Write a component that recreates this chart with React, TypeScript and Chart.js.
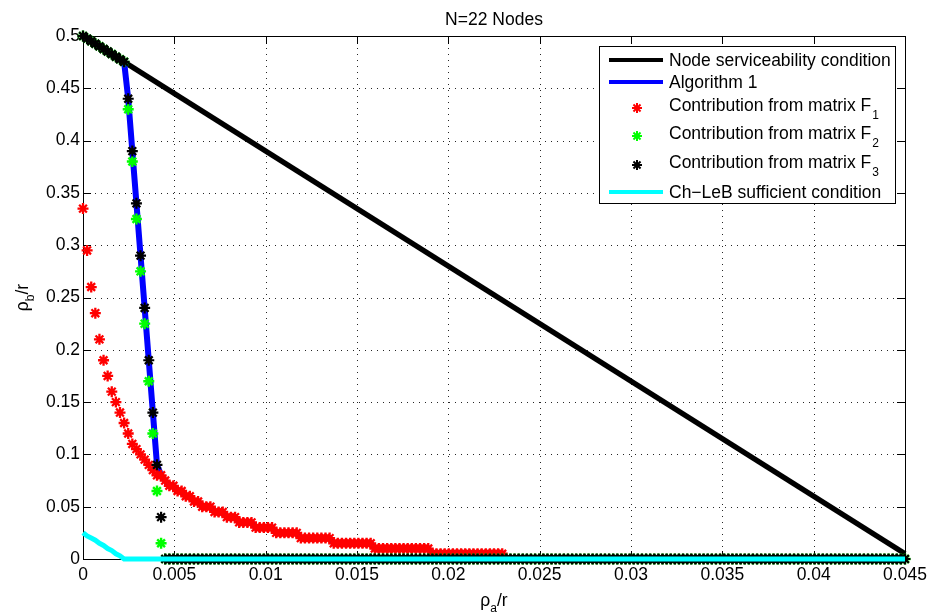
import React, { useEffect, useRef } from 'react';
import { Chart, registerables } from 'chart.js';

Chart.register(...registerables);

const FONT = "'Liberation Sans', Arial, Helvetica, sans-serif";

const TITLE = 'N=22 Nodes';
const X_LABEL_MAIN = 'ρ';
const X_LABEL_SUB = 'a';
const X_LABEL_TAIL = '/r';
const Y_LABEL_MAIN = 'ρ';
const Y_LABEL_SUB = 'b';
const Y_LABEL_TAIL = '/r';

const X_TICKS = [0, 0.005, 0.01, 0.015, 0.02, 0.025, 0.03, 0.035, 0.04, 0.045];
const X_TICK_LABELS = ['0', '0.005', '0.01', '0.015', '0.02', '0.025', '0.03', '0.035', '0.04', '0.045'];
const Y_TICKS = [0, 0.05, 0.1, 0.15, 0.2, 0.25, 0.3, 0.35, 0.4, 0.45, 0.5];
const Y_TICK_LABELS = ['0', '0.05', '0.1', '0.15', '0.2', '0.25', '0.3', '0.35', '0.4', '0.45', '0.5'];

const LEGEND_LABELS = [
  'Node serviceability condition',
  'Algorithm 1',
  'Contribution from matrix F',
  'Contribution from matrix F',
  'Contribution from matrix F',
  'Ch\u2212LeB sufficient condition',
];
const LEGEND_SUBS = ['', '', '1', '2', '3', ''];

// rho_a / r sampling grid (201 points, 0 .. 0.045)
const RHO_A = [
  0, 0.000225, 0.00045, 0.000675, 0.0009, 0.001125, 0.00135, 0.001575, 0.0018, 0.002025,
  0.00225, 0.002475, 0.0027, 0.002925, 0.00315, 0.003375, 0.0036, 0.003825, 0.00405, 0.004275,
  0.0045, 0.004725, 0.00495, 0.005175, 0.0054, 0.005625, 0.00585, 0.006075, 0.0063, 0.006525,
  0.00675, 0.006975, 0.0072, 0.007425, 0.00765, 0.007875, 0.0081, 0.008325, 0.00855, 0.008775,
  0.009, 0.009225, 0.00945, 0.009675, 0.0099, 0.010125, 0.01035, 0.010575, 0.0108, 0.011025,
  0.01125, 0.011475, 0.0117, 0.011925, 0.01215, 0.012375, 0.0126, 0.012825, 0.01305, 0.013275,
  0.0135, 0.013725, 0.01395, 0.014175, 0.0144, 0.014625, 0.01485, 0.015075, 0.0153, 0.015525,
  0.01575, 0.015975, 0.0162, 0.016425, 0.01665, 0.016875, 0.0171, 0.017325, 0.01755, 0.017775,
  0.018, 0.018225, 0.01845, 0.018675, 0.0189, 0.019125, 0.01935, 0.019575, 0.0198, 0.020025,
  0.02025, 0.020475, 0.0207, 0.020925, 0.02115, 0.021375, 0.0216, 0.021825, 0.02205, 0.022275,
  0.0225, 0.022725, 0.02295, 0.023175, 0.0234, 0.023625, 0.02385, 0.024075, 0.0243, 0.024525,
  0.02475, 0.024975, 0.0252, 0.025425, 0.02565, 0.025875, 0.0261, 0.026325, 0.02655, 0.026775,
  0.027, 0.027225, 0.02745, 0.027675, 0.0279, 0.028125, 0.02835, 0.028575, 0.0288, 0.029025,
  0.02925, 0.029475, 0.0297, 0.029925, 0.03015, 0.030375, 0.0306, 0.030825, 0.03105, 0.031275,
  0.0315, 0.031725, 0.03195, 0.032175, 0.0324, 0.032625, 0.03285, 0.033075, 0.0333, 0.033525,
  0.03375, 0.033975, 0.0342, 0.034425, 0.03465, 0.034875, 0.0351, 0.035325, 0.03555, 0.035775,
  0.036, 0.036225, 0.03645, 0.036675, 0.0369, 0.037125, 0.03735, 0.037575, 0.0378, 0.038025,
  0.03825, 0.038475, 0.0387, 0.038925, 0.03915, 0.039375, 0.0396, 0.039825, 0.04005, 0.040275,
  0.0405, 0.040725, 0.04095, 0.041175, 0.0414, 0.041625, 0.04185, 0.042075, 0.0423, 0.042525,
  0.04275, 0.042975, 0.0432, 0.043425, 0.04365, 0.043875, 0.0441, 0.044325, 0.04455, 0.044775,
  0.045,
];

// Node serviceability condition (straight line)
const SERVICE_X = [0, 0.045];
const SERVICE_Y = [0.5, 0.005];

// Contribution from matrix F1 (red), first 103 grid points
const F1 = [
  0.335, 0.295, 0.26, 0.235, 0.21, 0.19, 0.175, 0.16, 0.15, 0.14,
  0.13, 0.12, 0.11, 0.105, 0.1, 0.095, 0.09, 0.085, 0.08, 0.08,
  0.075, 0.07, 0.07, 0.065, 0.065, 0.06, 0.06, 0.055, 0.055, 0.05,
  0.05, 0.05, 0.045, 0.045, 0.045, 0.04, 0.04, 0.04, 0.035, 0.035,
  0.035, 0.035, 0.03, 0.03, 0.03, 0.03, 0.03, 0.025, 0.025, 0.025,
  0.025, 0.025, 0.025, 0.02, 0.02, 0.02, 0.02, 0.02, 0.02, 0.02,
  0.02, 0.015, 0.015, 0.015, 0.015, 0.015, 0.015, 0.015, 0.015, 0.015,
  0.015, 0.01, 0.01, 0.01, 0.01, 0.01, 0.01, 0.01, 0.01, 0.01,
  0.01, 0.01, 0.01, 0.01, 0.01, 0.005, 0.005, 0.005, 0.005, 0.005,
  0.005, 0.005, 0.005, 0.005, 0.005, 0.005, 0.005, 0.005, 0.005, 0.005,
  0.005, 0.005, 0.005,
];

// Contributions from matrices F2 (green) and F3 (black): first 20 grid points
const F2_HEAD = [
  0.5, 0.4975, 0.495, 0.4926, 0.4901, 0.4876, 0.4852, 0.4827, 0.4802, 0.4777,
  0.4753, 0.43, 0.38, 0.325, 0.275, 0.225, 0.17, 0.12, 0.065, 0.015,
];
const F3_HEAD = [
  0.5, 0.4975, 0.495, 0.4926, 0.4901, 0.4876, 0.4852, 0.4827, 0.4802, 0.4777,
  0.4753, 0.44, 0.39, 0.34, 0.29, 0.24, 0.19, 0.14, 0.09, 0.04,
];
// remaining 181 grid points lie on the axis
const ZERO_TAIL = [
  0, 0, 0, 0, 0, 0, 0, 0, 0, 0, 0, 0, 0, 0, 0, 0, 0, 0, 0, 0,
  0, 0, 0, 0, 0, 0, 0, 0, 0, 0, 0, 0, 0, 0, 0, 0, 0, 0, 0, 0,
  0, 0, 0, 0, 0, 0, 0, 0, 0, 0, 0, 0, 0, 0, 0, 0, 0, 0, 0, 0,
  0, 0, 0, 0, 0, 0, 0, 0, 0, 0, 0, 0, 0, 0, 0, 0, 0, 0, 0, 0,
  0, 0, 0, 0, 0, 0, 0, 0, 0, 0, 0, 0, 0, 0, 0, 0, 0, 0, 0, 0,
  0, 0, 0, 0, 0, 0, 0, 0, 0, 0, 0, 0, 0, 0, 0, 0, 0, 0, 0, 0,
  0, 0, 0, 0, 0, 0, 0, 0, 0, 0, 0, 0, 0, 0, 0, 0, 0, 0, 0, 0,
  0, 0, 0, 0, 0, 0, 0, 0, 0, 0, 0, 0, 0, 0, 0, 0, 0, 0, 0, 0,
  0, 0, 0, 0, 0, 0, 0, 0, 0, 0, 0, 0, 0, 0, 0, 0, 0, 0, 0, 0,
  0,
];
const F2 = [...F2_HEAD, ...ZERO_TAIL];
const F3 = [...F3_HEAD, ...ZERO_TAIL];

// Ch-LeB sufficient condition (cyan)
const CHLEB_X = [0, 0.000225, 0.00045, 0.000675, 0.0009, 0.001125, 0.00135, 0.001575, 0.0018, 0.002025, 0.00225, 0.045];
const CHLEB_Y = [0.025, 0.022, 0.02, 0.018, 0.015, 0.013, 0.01, 0.008, 0.005, 0.003, 0, 0];

const COLORS = {
  service: '#000000',
  alg: '#0000ff',
  f1: '#ff0000',
  f2: '#00ff00',
  f3: '#000000',
  chleb: '#00ffff',
};

function drawStar(ctx: CanvasRenderingContext2D, x: number, y: number, r: number, color: string, lw: number) {
  ctx.save();
  ctx.strokeStyle = color;
  ctx.lineWidth = lw;
  ctx.beginPath();
  for (let k = 0; k < 4; k++) {
    const a = (k * Math.PI) / 4;
    ctx.moveTo(x + r * Math.cos(a), y + r * Math.sin(a));
    ctx.lineTo(x - r * Math.cos(a), y - r * Math.sin(a));
  }
  ctx.stroke();
  ctx.restore();
}

const framePlugin = {
  id: 'matlabFrame',
  beforeDatasetsDraw(chart: any) {
    const { ctx, chartArea: a, scales } = chart;
    const xs = scales.x;
    const ys = scales.y;
    ctx.save();
    // dotted grid
    ctx.strokeStyle = 'rgba(0,0,0,0.85)';
    ctx.lineWidth = 1;
    ctx.setLineDash([1, 5]);
    X_TICKS.forEach((v) => {
      const px = Math.round(xs.getPixelForValue(v)) + 0.5;
      if (px < a.left + 2 || px > a.right - 2) return;
      ctx.beginPath();
      ctx.moveTo(px, a.bottom);
      ctx.lineTo(px, a.top);
      ctx.stroke();
    });
    Y_TICKS.forEach((v) => {
      const py = Math.round(ys.getPixelForValue(v)) + 0.5;
      if (py < a.top + 2 || py > a.bottom - 2) return;
      ctx.beginPath();
      ctx.moveTo(a.left, py);
      ctx.lineTo(a.right, py);
      ctx.stroke();
    });
    ctx.setLineDash([]);
    // inner ticks
    const tl = 8;
    ctx.strokeStyle = '#000';
    X_TICKS.forEach((v) => {
      const px = Math.round(xs.getPixelForValue(v)) + 0.5;
      ctx.beginPath();
      ctx.moveTo(px, a.bottom);
      ctx.lineTo(px, a.bottom - tl);
      ctx.moveTo(px, a.top);
      ctx.lineTo(px, a.top + tl);
      ctx.stroke();
    });
    Y_TICKS.forEach((v) => {
      const py = Math.round(ys.getPixelForValue(v)) + 0.5;
      ctx.beginPath();
      ctx.moveTo(a.left, py);
      ctx.lineTo(a.left + tl, py);
      ctx.moveTo(a.right, py);
      ctx.lineTo(a.right - tl, py);
      ctx.stroke();
    });
    // box
    ctx.strokeStyle = '#000';
    ctx.lineWidth = 1;
    ctx.strokeRect(Math.round(a.left) + 0.5, Math.round(a.top) + 0.5, Math.round(a.right - a.left), Math.round(a.bottom - a.top));
    ctx.restore();
  },
  afterDraw(chart: any) {
    const { ctx, chartArea: a } = chart;
    const cx = (a.left + a.right) / 2;
    const cy = (a.top + a.bottom) / 2;
    ctx.save();
    ctx.fillStyle = '#000';
    ctx.textBaseline = 'alphabetic';
    // title
    ctx.font = `17.5px ${FONT}`;
    ctx.textAlign = 'center';
    ctx.fillText(TITLE, cx, 25);

    // x label
    ctx.textAlign = 'left';
    const mainF = `17.5px ${FONT}`;
    const subF = `12px ${FONT}`;
    ctx.font = mainF;
    const wMain = ctx.measureText(X_LABEL_MAIN).width;
    const wTail = ctx.measureText(X_LABEL_TAIL).width;
    ctx.font = subF;
    const wSub = ctx.measureText(X_LABEL_SUB).width;
    const x0 = cx - (wMain + wSub + wTail) / 2;
    const xb = 606;
    ctx.font = mainF;
    ctx.fillText(X_LABEL_MAIN, x0, xb);
    ctx.font = subF;
    ctx.fillText(X_LABEL_SUB, x0 + wMain, xb + 6);
    ctx.font = mainF;
    ctx.fillText(X_LABEL_TAIL, x0 + wMain + wSub, xb);

    // y label (rotated)
    ctx.save();
    ctx.translate(28, cy);
    ctx.rotate(-Math.PI / 2);
    ctx.font = mainF;
    const ywMain = ctx.measureText(Y_LABEL_MAIN).width;
    const ywTail = ctx.measureText(Y_LABEL_TAIL).width;
    ctx.font = subF;
    const ywSub = ctx.measureText(Y_LABEL_SUB).width;
    const y0 = -(ywMain + ywSub + ywTail) / 2;
    ctx.font = mainF;
    ctx.fillText(Y_LABEL_MAIN, y0, 0);
    ctx.font = subF;
    ctx.fillText(Y_LABEL_SUB, y0 + ywMain, 6);
    ctx.font = mainF;
    ctx.fillText(Y_LABEL_TAIL, y0 + ywMain + ywSub, 0);
    ctx.restore();

    // legend
    const L = 599.5, T = 46.5, R = 895.5, B = 203.5;
    ctx.fillStyle = '#fff';
    ctx.fillRect(L, T, R - L, B - T);
    ctx.strokeStyle = '#000';
    ctx.lineWidth = 1;
    ctx.strokeRect(L, T, R - L, B - T);

    const baselines = [66, 88, 111, 139, 168, 198];
    const symY = [60, 82, 108, 136, 165, 192];
    const kinds = ['line', 'line', 'star', 'star', 'star', 'line'];
    const cols = [COLORS.service, COLORS.alg, COLORS.f1, COLORS.f2, COLORS.f3, COLORS.chleb];
    for (let i = 0; i < 6; i++) {
      if (kinds[i] === 'line') {
        ctx.save();
        ctx.strokeStyle = cols[i];
        ctx.lineWidth = 4;
        ctx.beginPath();
        ctx.moveTo(609, symY[i]);
        ctx.lineTo(663, symY[i]);
        ctx.stroke();
        ctx.restore();
      } else {
        drawStar(ctx, 637, symY[i], 5, cols[i], 2);
      }
      ctx.fillStyle = '#000';
      ctx.font = mainF;
      ctx.fillText(LEGEND_LABELS[i], 669, baselines[i]);
      if (LEGEND_SUBS[i]) {
        const w = ctx.measureText(LEGEND_LABELS[i]).width;
        ctx.font = subF;
        ctx.fillText(LEGEND_SUBS[i], 669 + w + 1, baselines[i] + 8);
      }
    }
    ctx.restore();
  },
};

export default function App() {
  const ref = useRef<HTMLCanvasElement | null>(null);

  useEffect(() => {
    if (!ref.current) return;
    const pts = (xs: number[], ys: number[]) =>
      ys.map((y, i) => ({ x: xs[i], y }));
    const algY = RHO_A.map((_, i) => Math.max(F1[i] ?? 0, F2[i], F3[i]));

    const chart = new Chart(ref.current, {
      type: 'scatter',
      data: {
        datasets: [
          {
            label: 'Node serviceability condition',
            data: pts(SERVICE_X, SERVICE_Y),
            showLine: true,
            borderColor: COLORS.service,
            borderWidth: 5.5,
            pointRadius: 0,
            clip: false,
            order: 6,
          },
          {
            label: 'Algorithm 1',
            data: pts(RHO_A, algY),
            showLine: true,
            borderColor: COLORS.alg,
            borderWidth: 6,
            pointRadius: 0,
            clip: false,
            order: 5,
          },
          {
            label: 'Contribution from matrix F1',
            data: pts(RHO_A, F1),
            showLine: false,
            pointStyle: 'star',
            pointRadius: 5.5,
            pointBorderWidth: 2.3,
            pointBorderColor: COLORS.f1,
            pointBackgroundColor: COLORS.f1,
            clip: false,
            order: 4,
          },
          {
            label: 'Contribution from matrix F2',
            data: pts(RHO_A, F2),
            showLine: false,
            pointStyle: 'star',
            pointRadius: 5.5,
            pointBorderWidth: 2.4,
            pointBorderColor: COLORS.f2,
            pointBackgroundColor: COLORS.f2,
            clip: false,
            order: 3,
          },
          {
            label: 'Contribution from matrix F3',
            data: pts(RHO_A, F3),
            showLine: false,
            pointStyle: 'star',
            pointRadius: 5.5,
            pointBorderWidth: 2.2,
            pointBorderColor: COLORS.f3,
            pointBackgroundColor: COLORS.f3,
            clip: false,
            order: 2,
          },
          {
            label: 'Ch-LeB sufficient condition',
            data: pts(CHLEB_X, CHLEB_Y),
            showLine: true,
            borderColor: COLORS.chleb,
            borderWidth: 5,
            pointRadius: 0,
            clip: false,
            order: 1,
          },
        ],
      },
      options: {
        responsive: false,
        animation: false,
        devicePixelRatio: 1,
        events: [],
        layout: { padding: { left: 0, right: 25, top: 36, bottom: 0 } },
        plugins: {
          legend: { display: false },
          title: { display: false },
          tooltip: { enabled: false },
        },
        scales: {
          x: {
            type: 'linear',
            min: 0,
            max: 0.045,
            grid: { display: false, drawTicks: false, tickLength: 0 },
            border: { display: false },
            ticks: {
              font: { family: FONT, size: 17.5 },
              color: '#000',
              padding: 6,
              maxRotation: 0,
              autoSkip: false,
              callback: (_v: any, i: number) => X_TICK_LABELS[i],
            },
            afterBuildTicks: (s: any) => {
              s.ticks = X_TICKS.map((v) => ({ value: v }));
            },
            afterFit: (s: any) => {
              s.height = 56;
              s.paddingLeft = 0;
              s.paddingRight = 0;
            },
          },
          y: {
            type: 'linear',
            min: 0,
            max: 0.5,
            grid: { display: false, drawTicks: false, tickLength: 0 },
            border: { display: false },
            ticks: {
              font: { family: FONT, size: 17.5 },
              color: '#000',
              padding: 3,
              autoSkip: false,
              callback: (_v: any, i: number) => Y_TICK_LABELS[i],
            },
            afterBuildTicks: (s: any) => {
              s.ticks = Y_TICKS.map((v) => ({ value: v }));
            },
            afterFit: (s: any) => {
              s.width = 83;
              s.paddingTop = 0;
              s.paddingBottom = 0;
            },
          },
        },
      } as any,
      plugins: [framePlugin],
    });
    return () => chart.destroy();
  }, []);

  return (
    <div style={{ position: 'fixed', left: 0, top: 0, width: 930, height: 615, background: '#fff' }}>
      <canvas ref={ref} width={930} height={615} style={{ display: 'block', width: 930, height: 615 }} />
    </div>
  );
}
